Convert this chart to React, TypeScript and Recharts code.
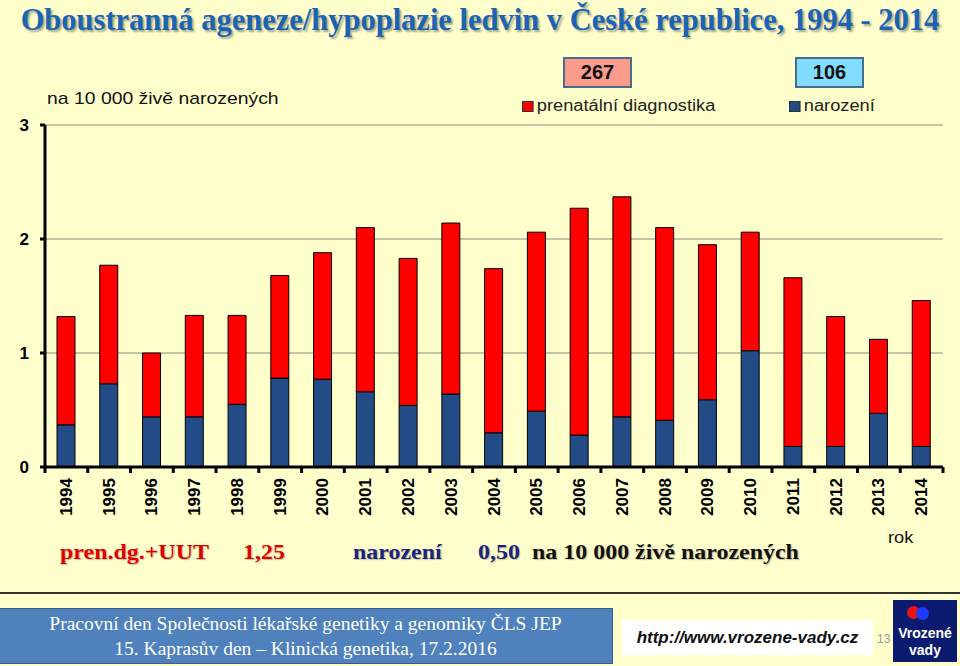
import React from 'react';
import { BarChart, Bar, XAxis, YAxis, CartesianGrid } from 'recharts';

const years = ['1994', '1995', '1996', '1997', '1998', '1999', '2000', '2001', '2002', '2003', '2004',
  '2005', '2006', '2007', '2008', '2009', '2010', '2011', '2012', '2013', '2014'];
// narození (dark blue, bottom of stack)
const narozeni = [0.37, 0.73, 0.44, 0.44, 0.55, 0.78, 0.77, 0.66, 0.54, 0.64, 0.30,
  0.49, 0.28, 0.44, 0.41, 0.59, 1.02, 0.18, 0.18, 0.47, 0.18];
// prenatální diagnostika (red, stacked on top)
const prenatalni = [0.95, 1.04, 0.56, 0.89, 0.78, 0.90, 1.11, 1.44, 1.29, 1.50, 1.44,
  1.57, 1.99, 1.93, 1.69, 1.36, 1.04, 1.48, 1.14, 0.65, 1.28];
const yTicks = [0, 1, 2, 3];

const data = years.map((rok, i) => ({ rok, narozeni: narozeni[i], prenatalni: prenatalni[i] }));

const RED = '#FF0000';
const BLUE = '#234B85';
const BG = '#FFFFCC';

const W = 960;
const H = 666;
const M = { top: 125, right: 17, bottom: 139, left: 0 };
const Y_AXIS_W = 45;
const PLOT_W = W - M.left - M.right - Y_AXIS_W;
const BAND = PLOT_W / years.length;

const sans = "Arial, 'Liberation Sans', sans-serif";
const serif = "'Times New Roman', 'Liberation Serif', serif";
const STRETCH = 'scaleX(1.14)';

const YearTick = (props: any) => {
  const { x, y, payload, index } = props;
  const top = y - 2;
  return (
    <g>
      <line x1={x - BAND / 2} x2={x - BAND / 2} y1={top} y2={top + 6} stroke="#000" strokeWidth={3} />
      {index === years.length - 1 && (
        <line x1={x + BAND / 2} x2={x + BAND / 2} y1={top} y2={top + 6} stroke="#000" strokeWidth={3} />
      )}
      <text
        x={x}
        y={top + 11}
        transform={`rotate(-90, ${x}, ${top + 11})`}
        textAnchor="end"
        dominantBaseline="central"
        fontFamily={sans}
        fontWeight="bold"
        fontSize={17}
        fill="#000"
      >
        {payload.value}
      </text>
    </g>
  );
};

const legendItems = [
  { name: 'prenatální diagnostika', color: RED, left: 522 },
  { name: 'narození', color: BLUE, left: 789 },
];

const stretched = (extra: React.CSSProperties): React.CSSProperties => ({
  position: 'absolute', transform: STRETCH, transformOrigin: 'left center', whiteSpace: 'nowrap', ...extra,
});

export default function App() {
  return (
    <div style={{ position: 'absolute', left: 0, top: 0, width: W, height: H, background: BG, overflow: 'hidden' }}>
      <div style={{
        position: 'absolute', left: 0, top: 3, width: W, textAlign: 'center',
        fontFamily: serif, fontWeight: 'bold', fontSize: 30.5, color: '#1B63B5',
        textShadow: '2px 2px 2px rgba(0,0,0,0.35)', whiteSpace: 'nowrap',
      }}>
        Oboustranná ageneze/hypoplazie ledvin v České republice, 1994 - 2014
      </div>

      <div style={stretched({ left: 47, top: 89, fontFamily: sans, fontSize: 17, color: '#111' })}>
        na 10 000 živě narozených
      </div>

      <div style={{
        position: 'absolute', left: 563, top: 57, width: 65, height: 27, background: '#F99C8B',
        border: '2px solid #4A6A8E', textAlign: 'center', lineHeight: '27px',
        fontFamily: sans, fontWeight: 'bold', fontSize: 20, color: '#111',
      }}>267</div>
      <div style={{
        position: 'absolute', left: 795, top: 57, width: 65, height: 27, background: '#80DDFF',
        border: '2px solid #4A6A8E', textAlign: 'center', lineHeight: '27px',
        fontFamily: sans, fontWeight: 'bold', fontSize: 20, color: '#111',
      }}>106</div>

      {legendItems.map((it) => (
        <div key={it.name} style={stretched({
          left: it.left, top: 97, display: 'flex', alignItems: 'center',
          fontFamily: sans, fontSize: 16, color: '#222',
        })}>
          <span style={{ display: 'inline-block', width: 8, height: 9, background: it.color, border: '1px solid #333', marginRight: 3 }} />
          {it.name}
        </div>
      ))}

      <div style={{ position: 'absolute', left: 0, top: 0 }}>
        <BarChart width={W} height={H} data={data} margin={M} barSize={18}>
          <CartesianGrid vertical={false} stroke="#8A8A7A" strokeWidth={1} />
          <XAxis
            dataKey="rok"
            axisLine={{ stroke: '#000', strokeWidth: 3 }}
            tickLine={false}
            tickSize={0}
            tick={<YearTick />}
            interval={0}
            height={60}
          />
          <YAxis
            domain={[0, 3]}
            ticks={yTicks}
            width={Y_AXIS_W}
            axisLine={{ stroke: '#000', strokeWidth: 3 }}
            tickLine={{ stroke: '#000', strokeWidth: 3 }}
            tickSize={5}
            tickMargin={11}
            tick={{ fontFamily: sans, fontWeight: 'bold', fontSize: 17, fill: '#000' }}
          />
          <Bar dataKey="narozeni" stackId="a" fill={BLUE} stroke="#000" strokeWidth={1} isAnimationActive={false} />
          <Bar dataKey="prenatalni" stackId="a" fill={RED} stroke="#000" strokeWidth={1} isAnimationActive={false} />
        </BarChart>
      </div>

      <div style={stretched({ left: 888, top: 529, fontFamily: sans, fontSize: 16, color: '#111' })}>rok</div>

      {[
        { t: 'pren.dg.+UUT', left: 60, color: '#E00000' },
        { t: '1,25', left: 243, color: '#E00000' },
        { t: 'narození', left: 353, color: '#1A237E' },
        { t: '0,50', left: 478, color: '#1A237E' },
        { t: 'na 10 000 živě narozených', left: 532, color: '#111' },
      ].map((s) => (
        <div key={s.t} style={stretched({
          left: s.left, top: 540, fontFamily: serif, fontWeight: 'bold', fontSize: 21, color: s.color,
          textShadow: '1px 1px 1px rgba(0,0,0,0.25)',
        })}>{s.t}</div>
      ))}

      <div style={{ position: 'absolute', left: 0, top: 592, width: W, height: 2, background: '#333' }} />

      <div style={{
        position: 'absolute', left: -2, top: 608, width: 613, height: 52, background: '#4F81BD',
        border: '1px solid #385D8A', color: '#fff', fontFamily: serif, fontSize: 19.5,
        textAlign: 'center', lineHeight: '25px', paddingTop: 2, whiteSpace: 'nowrap',
      }}>
        <div>Pracovní den Společnosti lékařské genetiky a genomiky ČLS JEP</div>
        <div>15. Kaprasův den – Klinická genetika, 17.2.2016</div>
      </div>

      <div style={{
        position: 'absolute', left: 622, top: 620, width: 251, height: 35, background: '#fff',
        textAlign: 'center', lineHeight: '35px', fontFamily: sans, fontStyle: 'italic', fontWeight: 'bold', fontSize: 17, color: '#111',
      }}>http://www.vrozene-vady.cz</div>

      <div style={{
        position: 'absolute', left: 893, top: 600, width: 64, height: 62, background: '#0B1B6F',
        color: '#fff', fontFamily: sans, fontWeight: 'bold', textAlign: 'center',
      }}>
        <div style={{ position: 'absolute', left: 14, top: 6, width: 13, height: 13, borderRadius: 7, background: '#F01010' }} />
        <div style={{ position: 'absolute', left: 23, top: 7, width: 13, height: 13, borderRadius: 7, background: '#1E3BFF' }} />
        <div style={{ position: 'absolute', left: 0, top: 25, width: 64, fontSize: 14 }}>Vrozené</div>
        <div style={{ position: 'absolute', left: 0, top: 42, width: 64, fontSize: 14 }}>vady</div>
      </div>

      <div style={{ position: 'absolute', left: 877, top: 632, fontFamily: sans, fontSize: 12, color: '#999' }}>13</div>
    </div>
  );
}
